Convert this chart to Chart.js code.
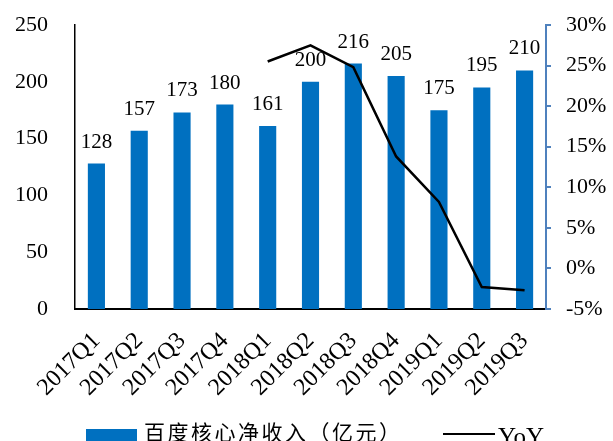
<!DOCTYPE html>
<html><head><meta charset="utf-8">
<script src="https://cdn.jsdelivr.net/npm/chart.js@4/dist/chart.umd.min.js"></script>
<style>
html,body{margin:0;padding:0;width:613px;height:441px;overflow:hidden;background:#fff}
#wrap{position:relative;width:613px;height:441px;overflow:hidden}
#legend{position:absolute;left:0;top:420px;width:613px;height:40px}
.box{position:absolute;left:86px;top:9px;width:51px;height:20px;background:#0070C0}
.t1{position:absolute;left:144px;top:-4px;font-family:"Noto Sans CJK SC";font-size:21px;letter-spacing:2.5px;line-height:30px;color:#000;white-space:nowrap}
.ln{position:absolute;left:443px;top:13px;width:52px;height:2px;background:#000}
.t2{position:absolute;left:498px;top:2px;font-family:"Liberation Serif";font-size:25px;line-height:30px;color:#000}
</style></head>
<body>
<div id="wrap"><canvas id="c" width="613" height="441"></canvas>
<div id="legend"><div class="box"></div><div class="t1">百度核心净收入（亿元）</div><div class="ln"></div><div class="t2">YoY</div></div></div>
<script>
const categories = ['2017Q1','2017Q2','2017Q3','2017Q4','2018Q1','2018Q2','2018Q3','2018Q4','2019Q1','2019Q2','2019Q3'];
const revenue = [128,157,173,180,161,200,216,205,175,195,210];
const yoy = [null,null,null,null,25.5,27.5,24.8,13.8,8.2,-2.3,-2.7];
const leftTicks = [0,50,100,150,200,250];
const rightTicks = [-5,0,5,10,15,20,25,30];

const barLabels = {
  id:'barLabels',
  afterDatasetDraw(chart,args){
    if(args.index!==0) return;
    const ctx=chart.ctx;
    ctx.save();
    ctx.font='21px "Liberation Serif"';
    ctx.fillStyle='#000';
    ctx.textAlign='center';
    ctx.textBaseline='alphabetic';
    args.meta.data.forEach((el,i)=>{ ctx.fillText(String(revenue[i]), el.x, el.y-16); });
    ctx.restore();
  }
};

new Chart(document.getElementById('c'),{
  data:{
    labels:categories,
    datasets:[
      {type:'bar',label:'百度核心净收入（亿元）',data:revenue,backgroundColor:'#0070C0',yAxisID:'y',barPercentage:0.4,categoryPercentage:1,order:1},
      {type:'line',label:'YoY',data:yoy,borderColor:'#000',borderWidth:2.5,pointRadius:0,tension:0,yAxisID:'y1',order:0,spanGaps:false}
    ]
  },
  options:{
    responsive:false,animation:false,devicePixelRatio:1,
    layout:{padding:{top:25,left:0,right:0,bottom:0}},
    plugins:{legend:{display:false},tooltip:{enabled:false}},
    scales:{
      x:{
        grid:{display:false,drawTicks:false},
        border:{display:true,color:'#000',width:2},
        ticks:{color:'#000',font:{family:'Liberation Serif',size:24},minRotation:45,maxRotation:45,padding:18,autoSkip:false},
        afterFit(s){s.height=132;}
      },
      y:{
        position:'left',min:0,max:250,
        afterBuildTicks(s){s.ticks=leftTicks.map(v=>({value:v}));},
        grid:{display:false,drawTicks:false},
        border:{display:true,color:'#000',width:1.5},
        ticks:{color:'#000',font:{family:'Liberation Serif',size:22},padding:27},
        afterFit(s){s.width=75;s.paddingTop=10;s.paddingBottom=10;}
      },
      y1:{
        position:'right',min:-5,max:30,
        afterBuildTicks(s){s.ticks=rightTicks.map(v=>({value:v}));},
        grid:{display:true,drawOnChartArea:false,drawTicks:true,tickLength:5,color:'#4F81BD',lineWidth:2},
        border:{display:true,color:'#4F81BD',width:2},
        ticks:{color:'#000',font:{family:'Liberation Serif',size:22},padding:15,callback:v=>v+'%'},
        afterFit(s){s.width=67;s.paddingTop=10;s.paddingBottom=10;}
      }
    }
  },
  plugins:[barLabels]
});
</script>
</body></html>
